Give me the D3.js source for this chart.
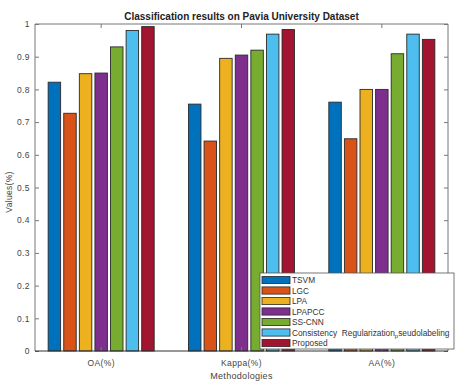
<!DOCTYPE html>
<html>
<head>
<meta charset="utf-8">
<script src="https://cdn.jsdelivr.net/npm/d3@7"></script>
<style>
  body { margin: 0; background: #fff; }
  text { font-family: "Liberation Sans", Arial, sans-serif; }
</style>
</head>
<body>
<div id="chart"></div>
<script>
const categories = ['OA(%)', 'Kappa(%)', 'AA(%)'];
const methods = ['TSVM', 'LGC', 'LPA', 'LPAPCC', 'SS-CNN', 'Consistency  Regularization_pseudolabeling', 'Proposed'];
const tsvm = [0.822, 0.755, 0.761];
const lgc = [0.727, 0.642, 0.649];
const lpa = [0.848, 0.895, 0.800];
const lpapcc = [0.850, 0.905, 0.800];
const sscnn = [0.930, 0.920, 0.909];
const consistency = [0.980, 0.969, 0.969];
const proposed = [0.992, 0.983, 0.953];
const yTicks = [0, 0.1, 0.2, 0.3, 0.4, 0.5, 0.6, 0.7, 0.8, 0.9, 1];
const colors = ['#0072BD', '#D95319', '#EDB120', '#7E2F8E', '#77AC30', '#4DBEEE', '#A2142F'];

const seriesValues = [tsvm, lgc, lpa, lpapcc, sscnn, consistency, proposed];

const chartWidth = 471;
const chartHeight = 388;
const plotLeft = 35, plotRight = 448, plotTop = 24, plotBottom = 351;
const axisColor = '#777';
const textColor = '#444';

const svg = d3.select('#chart')
            .append('svg')
            .attr('width', chartWidth)
            .attr('height', chartHeight);

// matlab-like xlim [0.5, 3.5]
const xScale = d3.scaleBand()
            .domain(categories)
            .range([31, 452]);

const xInner = d3.scaleBand()
            .domain(methods)
            .range([0.1 * xScale.bandwidth(), 0.9 * xScale.bandwidth()])
            .padding(0.2);

const yScale = d3.scaleLinear()
            .domain([0, 1])
            .range([plotBottom, plotTop]);

const plotData = () => {
    const groups = svg.selectAll('g.group')
        .data(categories)
        .enter()
        .append('g')
        .attr('class', 'group')
        .attr('transform', d => 'translate(' + xScale(d) + ',0)');

    groups.selectAll('rect')
        .data((c, ci) => methods.map((m, mi) => ({ method: m, value: seriesValues[mi][ci], color: colors[mi] })))
        .enter()
        .append('rect')
        .attr('x', d => xInner(d.method))
        .attr('y', d => yScale(d.value))
        .attr('width', xInner.bandwidth())
        .attr('height', d => plotBottom - yScale(d.value))
        .attr('fill', d => d.color)
        .attr('stroke', '#2a2a2a')
        .attr('stroke-width', 0.9);
};

const plotAxis = () => {
    const yLeft = d3.axisLeft(yScale).tickValues(yTicks).tickFormat(d3.format('')).tickSize(-4).tickPadding(5);
    const yRight = d3.axisRight(yScale).tickValues(yTicks).tickFormat('').tickSize(-4);
    const xBottom = d3.axisBottom(xScale).tickSize(-4).tickPadding(9);
    const xTop = d3.axisTop(xScale).tickSize(-4).tickFormat('');

    const axes = [
        svg.append('g').attr('transform', 'translate(' + plotLeft + ',0)').call(yLeft),
        svg.append('g').attr('transform', 'translate(' + plotRight + ',0)').call(yRight),
        svg.append('g').attr('transform', 'translate(0,' + plotBottom + ')').call(xBottom),
        svg.append('g').attr('transform', 'translate(0,' + plotTop + ')').call(xTop)
    ];
    axes.forEach(g => {
        g.select('.domain').remove();
        g.selectAll('.tick line').attr('stroke', axisColor);
        g.selectAll('.tick text')
            .attr('fill', textColor)
            .style('font-size', '8.5px')
            .style('letter-spacing', '0.4px');
    });

    svg.append('line').attr('x1', plotLeft).attr('x2', plotRight).attr('y1', plotTop).attr('y2', plotTop).attr('stroke', axisColor);
    svg.append('line').attr('x1', plotRight).attr('x2', plotRight).attr('y1', plotTop).attr('y2', plotBottom).attr('stroke', axisColor);
    svg.append('line').attr('x1', plotLeft).attr('x2', plotLeft).attr('y1', plotTop).attr('y2', plotBottom).attr('stroke', axisColor);
    svg.append('line').attr('x1', plotLeft).attr('x2', plotRight).attr('y1', plotBottom).attr('y2', plotBottom).attr('stroke', '#333');
};

const plotLabels = () => {
    svg.append('text')
        .attr('x', 241.5)
        .attr('y', 20)
        .attr('text-anchor', 'middle')
        .style('font-size', '10px')
        .style('font-weight', 'bold')
        .attr('fill', '#222')
        .text('Classification results on Pavia University Dataset');

    svg.append('text')
        .attr('x', 241.5)
        .attr('y', 379)
        .attr('text-anchor', 'middle')
        .style('font-size', '9px')
        .style('letter-spacing', '0.3px')
        .attr('fill', textColor)
        .text('Methodologies');

    svg.append('text')
        .attr('transform', 'translate(12,192) rotate(-90)')
        .attr('text-anchor', 'middle')
        .style('font-size', '8.5px')
        .style('letter-spacing', '0.3px')
        .attr('fill', textColor)
        .text('Values(%)');
};

const plotLegend = () => {
    const legend = svg.append('g').attr('transform', 'translate(260,273)');
    legend.append('rect')
        .attr('width', 194)
        .attr('height', 76)
        .attr('fill', '#fff')
        .attr('stroke', '#555')
        .attr('stroke-width', 0.8);

    const items = legend.selectAll('g.item')
        .data(methods)
        .enter()
        .append('g')
        .attr('class', 'item')
        .attr('transform', (d, i) => 'translate(0,' + (7 + i * 10.5) + ')');

    items.append('rect')
        .attr('x', 2)
        .attr('y', -3.6)
        .attr('width', 28)
        .attr('height', 7.2)
        .attr('fill', (d, i) => colors[i])
        .attr('stroke', '#2a2a2a')
        .attr('stroke-width', 0.8);

    items.append('text')
        .attr('x', 32)
        .attr('y', 3)
        .style('font-size', '8.3px')
        .style('white-space', 'pre')
        .attr('fill', '#333')
        .each(function(d) {
            const t = d3.select(this);
            const parts = d.split('_');
            t.append('tspan').text(parts[0]);
            if (parts.length > 1) {
                t.append('tspan').attr('dy', 2).style('font-size', '6px').text(parts[1][0]);
                t.append('tspan').attr('dy', -2).text(parts[1].slice(1));
            }
        });
};

plotData();
plotAxis();
plotLabels();
plotLegend();
</script>
</body>
</html>
